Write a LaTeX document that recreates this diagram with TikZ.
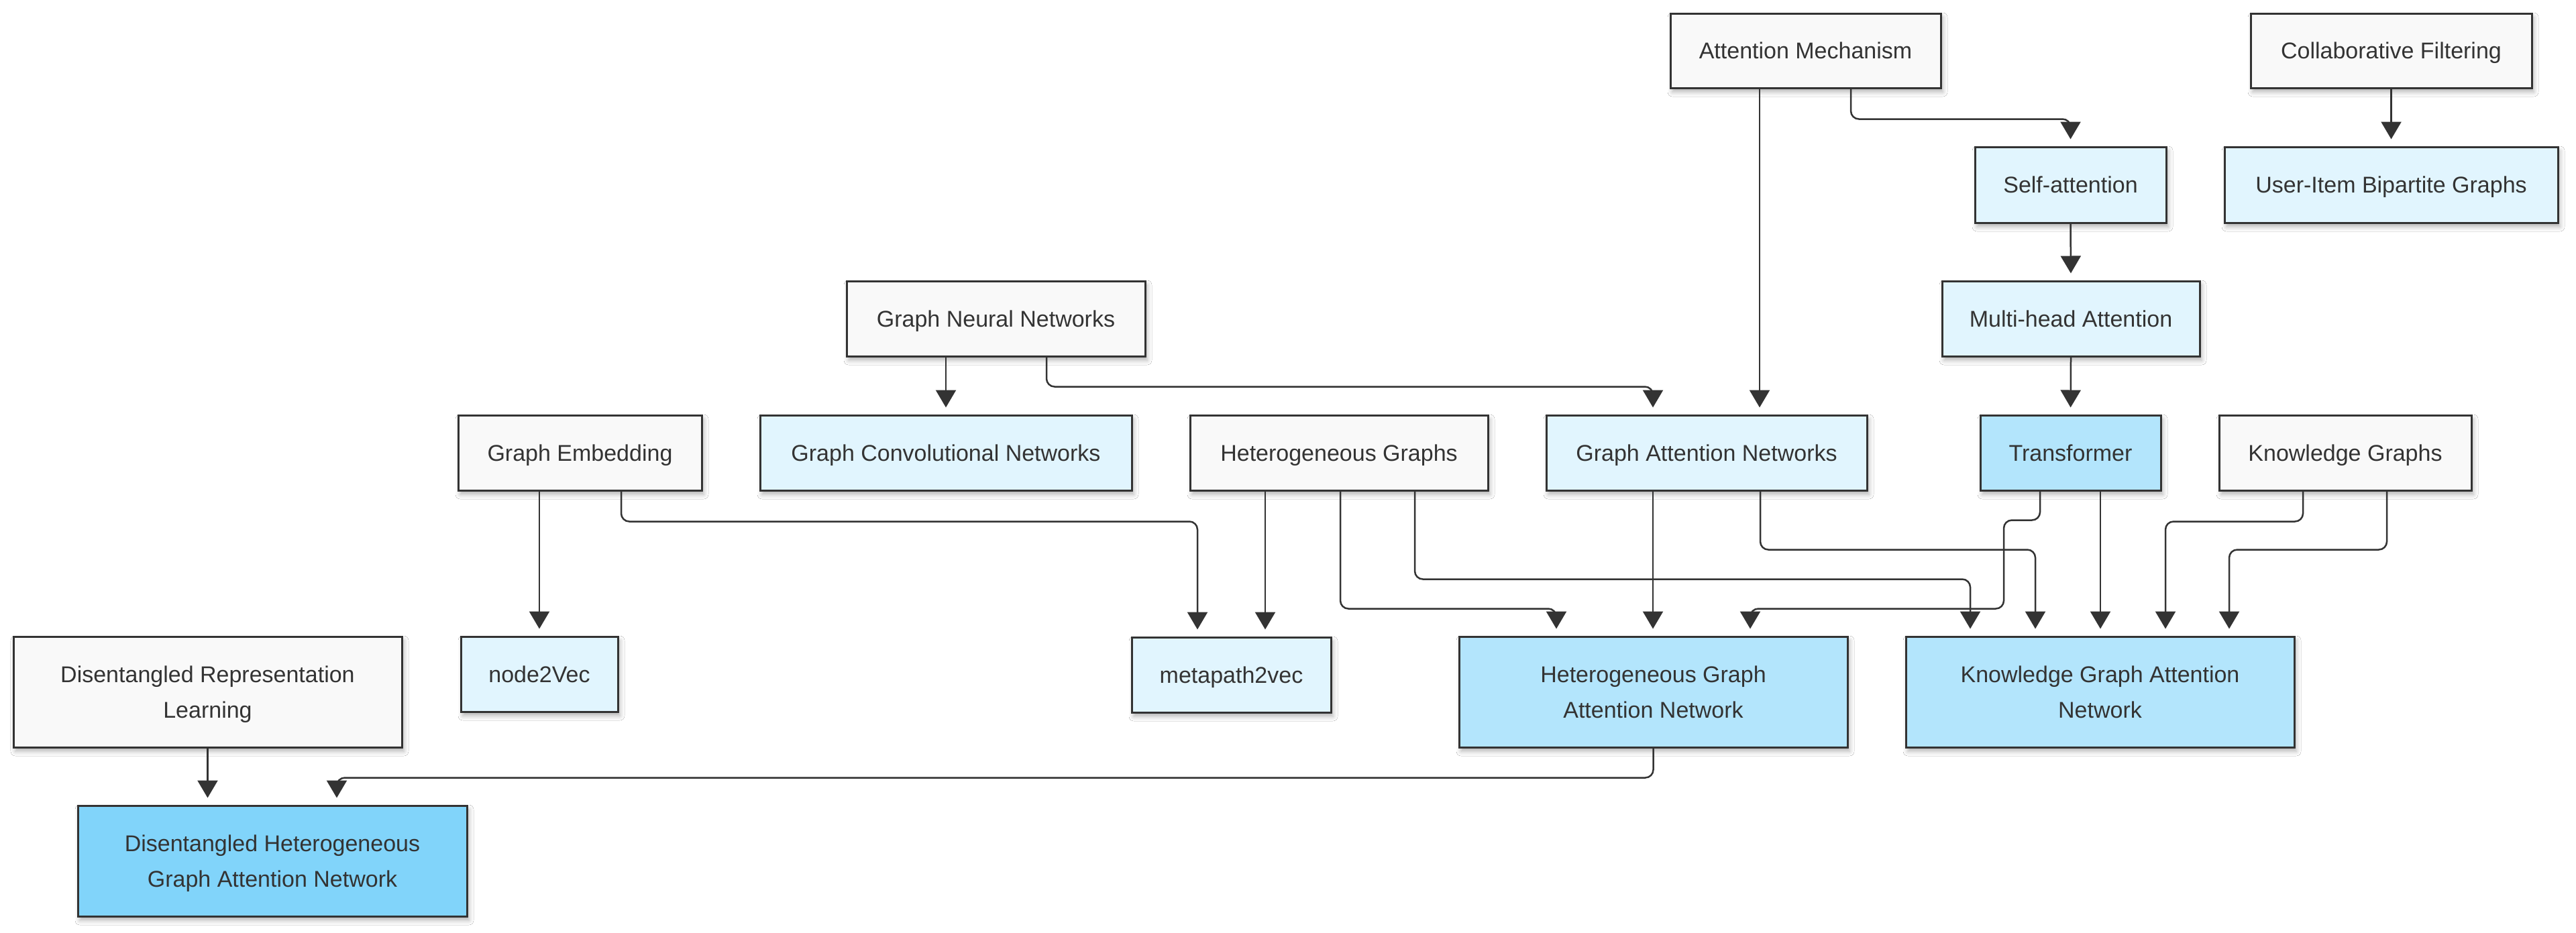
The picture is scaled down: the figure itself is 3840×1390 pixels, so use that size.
\documentclass[tikz,border=0pt]{standalone}
\usepackage{fontspec}
\setmainfont{Liberation Sans}
\usetikzlibrary{arrows.meta,shadows.blur}
\definecolor{bordc}{RGB}{51,51,51}
\definecolor{grayf}{RGB}{249,249,249}
\definecolor{lightf}{RGB}{225,245,254}
\definecolor{medf}{RGB}{179,229,252}
\definecolor{strongf}{RGB}{129,212,250}
\begin{document}
\begin{tikzpicture}[x=1pt,y=-1pt,
  box/.style={draw=bordc, line width=3pt, rectangle, inner sep=0pt, align=center,
    text=bordc, font=\fontsize{34}{53}\selectfont, text depth=0pt,
    blur shadow={shadow xshift=3pt, shadow yshift=-6pt, shadow blur radius=7pt, shadow opacity=30}},
  gbox/.style={box, fill=grayf},
  lbox/.style={box, fill=lightf},
  mbox/.style={box, fill=medf},
  sbox/.style={box, fill=strongf},
  conn/.style={draw=bordc, line width=2.5pt, rounded corners=12pt, shorten >=10pt,
    -{Triangle[length=26pt,width=30pt]}}
]
\useasboundingbox (0,0) rectangle (3840,1390);
\fill[white] (0,0) rectangle (3840,1390);
% nodes
\node[gbox, minimum width=403, minimum height=111] (am) at (2691.5,75.5) {Attention Mechanism};
\node[gbox, minimum width=419, minimum height=111] (cf) at (3564.5,75.5) {Collaborative Filtering};
\node[lbox, minimum width=285, minimum height=113] (sa) at (3086.5,275.5) {Self-attention};
\node[lbox, minimum width=497, minimum height=113] (ui) at (3564.5,275.5) {User-Item Bipartite Graphs};
\node[lbox, minimum width=384, minimum height=112] (mha) at (3087,475) {Multi-head Attention};
\node[gbox, minimum width=445, minimum height=112] (gnn) at (1484.5,475) {Graph Neural Networks};
\node[gbox, minimum width=363, minimum height=112] (ge) at (864.5,675) {Graph Embedding};
\node[lbox, minimum width=554, minimum height=112] (gcn) at (1410,675) {Graph Convolutional Networks};
\node[gbox, minimum width=444, minimum height=112] (hg) at (1996,675) {Heterogeneous Graphs};
\node[lbox, minimum width=478, minimum height=112] (gat) at (2544,675) {Graph Attention Networks};
\node[mbox, minimum width=269, minimum height=112] (tr) at (3086.5,675) {Transformer};
\node[gbox, minimum width=376, minimum height=112] (kg) at (3496,675) {Knowledge Graphs};
\node[gbox, minimum width=579, minimum height=165] (drl) at (309.5,1031.5) {Disentangled Representation\\Learning};
\node[lbox, minimum width=234, minimum height=112] (n2v) at (804,1005) {node2Vec};
\node[lbox, minimum width=297, minimum height=112] (m2v) at (1835.5,1006) {metapath2vec};
\node[mbox, minimum width=579, minimum height=165] (hgan) at (2464.5,1031.5) {Heterogeneous Graph\\Attention Network};
\node[mbox, minimum width=579, minimum height=165] (kgan) at (3130.5,1031.5) {Knowledge Graph Attention\\Network};
\node[sbox, minimum width=580, minimum height=165] (dhgan) at (406,1283.5) {Disentangled Heterogeneous\\Graph Attention Network};
% connectors
\draw[conn] ([xshift=67.5]am.south) -- ++(0,45) -| (sa.north);
\draw[conn] ([xshift=-68.5]am.south) -- ([xshift=79]gat.north);
\draw[conn] (cf.south) -- (ui.north);
\draw[conn] (sa.south) -- (mha.north);
\draw[conn] (mha.south) -- (tr.north);
\draw[conn] ([xshift=-74.5]gnn.south) -- ([xshift=-74.5]gnn.south |- gcn.north);
\draw[conn] ([xshift=75.5]gnn.south) -- ++(0,44) -| ([xshift=-80]gat.north);
\draw[conn] ([xshift=-60.5]ge.south) -- ([xshift=-60.5]ge.south |- n2v.north);
\draw[conn] ([xshift=61.5]ge.south) -- ++(0,45) -| ([xshift=-50.5]m2v.north);
\draw[conn] ([xshift=-110]hg.south) -- ([xshift=-110]hg.south |- m2v.north);
\draw[conn] ([xshift=2]hg.south) -- ++(0,175) -| ([xshift=-144.5]hgan.north);
\draw[conn] ([xshift=113]hg.south) -- ++(0,131) -| ([xshift=-193.5]kgan.north);
\draw[conn] ([xshift=-80]gat.south) -- ([xshift=-80]gat.south |- hgan.north);
\draw[conn] ([xshift=80]gat.south) -- ++(0,87) -| ([xshift=-96.5]kgan.north);
\draw[conn] ([xshift=-45.5]tr.south) -- ++(0,43) -- ++(-54,0) -- ++(0,132) -| ([xshift=144.5]hgan.north);
\draw[conn] ([xshift=44.5]tr.south) -- ([xshift=44.5]tr.south |- kgan.north);
\draw[conn] ([xshift=-63]kg.south) -- ++(0,45) -| ([xshift=97.5]kgan.north);
\draw[conn] ([xshift=62]kg.south) -- ++(0,87) -| ([xshift=192.5]kgan.north);
\draw[conn] (drl.south) -- ([xshift=-96.5]dhgan.north);
\draw[conn] (hgan.south) -- ++(0,44) -| ([xshift=96]dhgan.north);
\end{tikzpicture}
\end{document}
